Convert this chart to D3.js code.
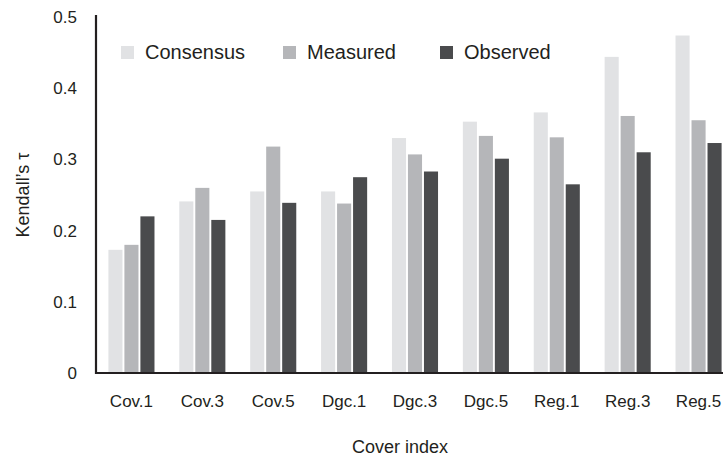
<!DOCTYPE html>
<html>
<head>
<meta charset="utf-8">
<script src="https://cdn.jsdelivr.net/npm/d3@7"></script>
<style>
  body { margin: 0; background: #fff; }
  text { font-family: "Liberation Sans", Arial, sans-serif; fill: #231f20; }
</style>
</head>
<body>
<div id="chart"></div>
<script>
const width = 723, height = 463;

// data
const categories = ["Cov.1", "Cov.3", "Cov.5", "Dgc.1", "Dgc.3", "Dgc.5", "Reg.1", "Reg.3", "Reg.5"];
const seriesNames = ["Consensus", "Measured", "Observed"];
const consensus = [0.173, 0.241, 0.255, 0.255, 0.330, 0.353, 0.366, 0.444, 0.474];
const measured  = [0.180, 0.260, 0.318, 0.238, 0.307, 0.333, 0.331, 0.361, 0.355];
const observed  = [0.220, 0.215, 0.239, 0.275, 0.283, 0.301, 0.265, 0.310, 0.323];
const yTicks = [0, 0.1, 0.2, 0.3, 0.4, 0.5];
const colors = ["#e1e2e4", "#b5b6b9", "#4a4b4d"];

const values = [consensus, measured, observed];

var svg = d3.select("#chart")
      .append("svg")
      .attr("width", width)
      .attr("height", height);

// scales
let x0 = d3.scaleBand()
      .domain(categories)
      .range([96, 734])
      .paddingInner(0.35)
      .paddingOuter(0.175);

let x1 = d3.scaleBand()
      .domain(seriesNames)
      .range([0, x0.bandwidth()])
      .paddingInner(0.12);

let y = d3.scaleLinear()
      .domain([0, 0.5])
      .range([373, 17]);

let color = d3.scaleOrdinal().domain(seriesNames).range(colors);

// bars
const groups = svg.append("g")
      .selectAll("g")
      .data(categories)
      .join("g")
      .attr("transform", d => `translate(${x0(d)},0)`);

groups.selectAll("rect")
      .data((c, i) => seriesNames.map((s, k) => ({ key: s, value: values[k][i] })))
      .join("rect")
      .attr("x", d => x1(d.key))
      .attr("width", x1.bandwidth())
      .attr("y", d => y(d.value))
      .attr("height", d => y(0) - y(d.value))
      .attr("fill", d => color(d.key));

// Y axis
const yAxis = svg.append("g")
      .attr("transform", "translate(96,0)")
      .call(d3.axisLeft(y).tickValues(yTicks).tickFormat(d => String(d)).tickSize(0).tickPadding(19));
yAxis.select(".domain").attr("stroke", "#231f20").attr("stroke-width", 2.2).attr("d", "M0,15V374");
yAxis.selectAll("text").style("font-size", "17px").attr("fill", "#231f20");

// X axis
const xAxis = svg.append("g")
      .attr("transform", "translate(0,373)")
      .call(d3.axisBottom(x0).tickSize(0).tickPadding(22));
xAxis.select(".domain").attr("stroke", "#231f20").attr("stroke-width", 2.2).attr("d", "M95,0H723");
xAxis.selectAll("text").style("font-size", "17px").attr("fill", "#231f20");

// axis titles
svg.append("text")
      .attr("x", 400)
      .attr("y", 453)
      .attr("text-anchor", "middle")
      .style("font-size", "18px")
      .text("Cover index");

svg.append("text")
      .attr("transform", "translate(29,195) rotate(-90)")
      .attr("text-anchor", "middle")
      .style("font-size", "18px")
      .text("Kendall’s τ");

// legend
const legendX = [121, 283, 440];
const legend = svg.append("g")
      .selectAll("g")
      .data(seriesNames)
      .join("g")
      .attr("transform", (d, i) => `translate(${legendX[i]},46)`);

legend.append("rect")
      .attr("width", 13)
      .attr("height", 13)
      .attr("fill", d => color(d));

legend.append("text")
      .attr("x", 24)
      .attr("y", 13)
      .style("font-size", "20px")
      .text(d => d);
</script>
</body>
</html>
